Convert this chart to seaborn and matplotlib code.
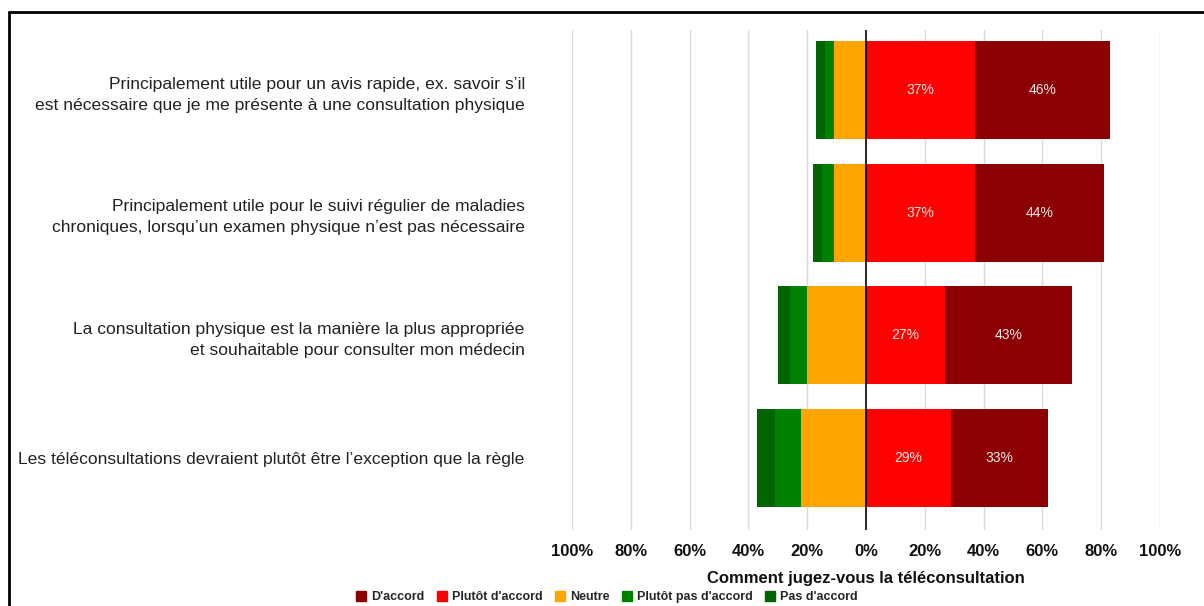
import matplotlib
matplotlib.use("Agg")
import matplotlib.pyplot as plt
import matplotlib.lines as mlines
import matplotlib.patches as mpatches
import pandas as pd
import seaborn as sns

# Data (percent of respondents)
statements = [
    "Principalement utile pour un avis rapide, ex. savoir s\u2019il\nest n\u00e9cessaire que je me pr\u00e9sente \u00e0 une consultation physique",
    "Principalement utile pour le suivi r\u00e9gulier de maladies\nchroniques, lorsqu\u2019un examen physique n\u2019est pas n\u00e9cessaire",
    "La consultation physique est la mani\u00e8re la plus appropri\u00e9e\net souhaitable pour consulter mon m\u00e9decin",
    "Les t\u00e9l\u00e9consultations devraient plut\u00f4t \u00eatre l\u2019exception que la r\u00e8gle",
]
d_accord = [46, 44, 43, 33]
plutot_accord = [37, 37, 27, 29]
neutre = [11, 11, 20, 22]
plutot_pas = [3, 4, 6, 9]
pas_accord = [3, 3, 4, 6]

categories = ["D'accord", "Plut\u00f4t d'accord", "Neutre", "Plut\u00f4t pas d'accord", "Pas d'accord"]
colors = ["#8b0000", "#ff0000", "#ffa500", "#008000", "#006400"]
ticks = [-100, -80, -60, -40, -20, 0, 20, 40, 60, 80, 100]
tick_labels = ["100%", "80%", "60%", "40%", "20%", "0%", "20%", "40%", "60%", "80%", "100%"]

df = pd.DataFrame({
    "statement": statements,
    "d_accord": d_accord,
    "plutot_accord": plutot_accord,
    "neutre": neutre,
    "plutot_pas": plutot_pas,
    "pas_accord": pas_accord,
})
# cumulative extents, drawn largest first so segments stack
df["pos_total"] = df["plutot_accord"] + df["d_accord"]
df["neg_total"] = -(df["neutre"] + df["plutot_pas"] + df["pas_accord"])
df["neg_mid"] = -(df["neutre"] + df["plutot_pas"])
df["neg_neutre"] = -df["neutre"]

sns.set_style("white")
plt.rcParams["font.family"] = ["Liberation Sans", "DejaVu Sans"]

fig = plt.figure(figsize=(12.04, 6.06), dpi=100)
ax = fig.add_axes([572 / 1204, 1 - 530 / 606, 588 / 1204, 500 / 606])

for col, c in [("pos_total", colors[0]), ("plutot_accord", colors[1]),
               ("neg_total", colors[4]), ("neg_mid", colors[3]), ("neg_neutre", colors[2])]:
    sns.barplot(data=df, x=col, y="statement", orient="h", color=c,
                width=0.8, saturation=1, linewidth=0, ax=ax, zorder=2)

for i, row in df.iterrows():
    ax.text(row["plutot_accord"] / 2, i, f"{row['plutot_accord']}%", ha="center", va="center",
            color="#f0e8e8", fontsize=10, zorder=3)
    ax.text(row["plutot_accord"] + row["d_accord"] / 2, i, f"{row['d_accord']}%", ha="center",
            va="center", color="#f0e8e8", fontsize=10, zorder=3)

ax.set_xlim(-100, 100)
ax.set_ylim(3.59, -0.49)
ax.set_xticks(ticks)
ax.set_xticklabels(tick_labels, fontsize=12, fontweight="bold", color="#111111")
for t in ticks:
    ax.axvline(t, color="#d9d9d9" if t != 0 else "black", lw=1 if t != 0 else 1.2, zorder=1 if t != 0 else 4)
for s in ax.spines.values():
    s.set_visible(False)
ax.tick_params(axis="x", length=0, pad=10)
ax.tick_params(axis="y", length=0, pad=34)
for lab in ax.get_yticklabels():
    lab.set_fontsize(12.6)
    lab.set_color("#222222")
    lab.set_linespacing(1.5)
ax.set_ylabel("")
ax.set_xlabel("Comment jugez-vous la t\u00e9l\u00e9consultation", fontsize=12, fontweight="bold",
              color="#111111", labelpad=9)

handles = [mpatches.Patch(color=c, label=l) for c, l in zip(colors, categories)]
leg = fig.legend(handles=handles, loc="center", bbox_to_anchor=(607 / 1204, 1 - 597 / 606), ncol=5,
                 frameon=False, prop={"size": 9, "weight": "bold"}, handlelength=0.8, handleheight=0.8,
                 handletextpad=0.4, columnspacing=1.0, borderpad=0)

# outer frame (top and left edges visible)
fig.add_artist(mlines.Line2D([9 / 1204, 9 / 1204], [0, 1 - 12 / 606], color="black", lw=2))
fig.add_artist(mlines.Line2D([9 / 1204, 1], [1 - 12 / 606, 1 - 12 / 606], color="black", lw=2))

fig.savefig("out.png", dpi=100)
